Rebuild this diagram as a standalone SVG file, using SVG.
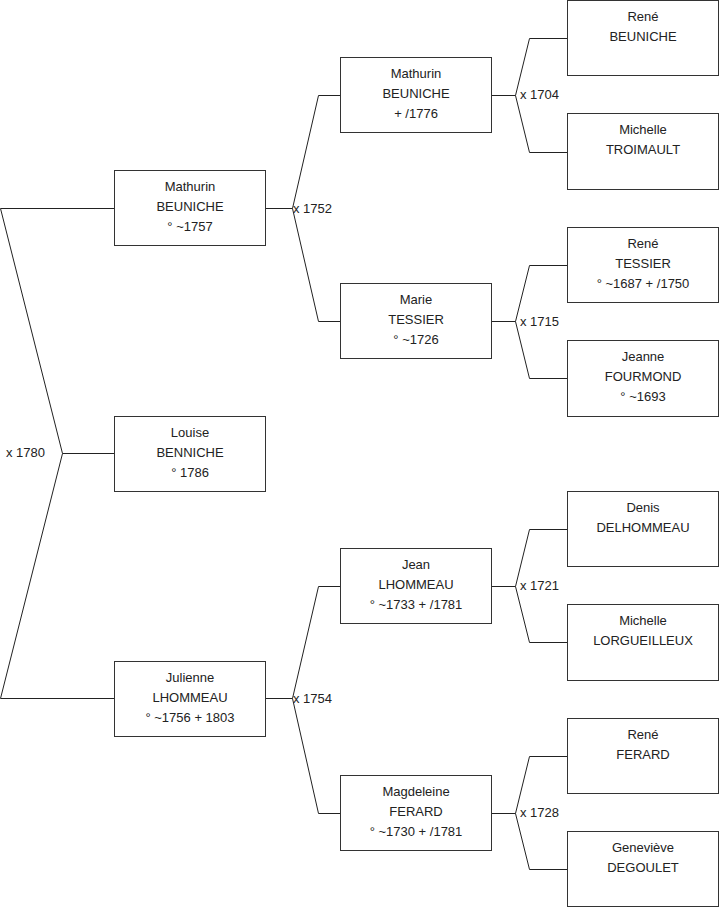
<svg xmlns="http://www.w3.org/2000/svg" width="719" height="908" viewBox="0 0 719 908">
<style>
.box rect{fill:#ffffff;stroke:#333333;stroke-width:1}
text{font-family:"Liberation Sans",Arial,sans-serif;font-size:13px;fill:#222222}
.box text{text-anchor:middle}
.links path{fill:none;stroke:#222222;stroke-width:1}
</style>
<rect width="719" height="908" fill="#ffffff"/>
<g class="links" id="connectors">
<path d="M0.5,208.5H114.5M0.5,208.5L62.5,453.5H114.5M62.5,453.5L0.5,698.5H114.5"/>
<path d="M265.5,208.5H292.5L318.5,95.5H340.5M292.5,208.5L318.5,321.5H340.5"/>
<path d="M265.5,698.5H292.5L318.5,586.5H340.5M292.5,698.5L318.5,813.5H340.5"/>
<path d="M491.5,95.5H515.5L529.5,38.5H567.5M515.5,95.5L529.5,152.5H567.5"/>
<path d="M491.5,321.5H515.5L529.5,265.5H567.5M515.5,321.5L529.5,378.5H567.5"/>
<path d="M491.5,586.5H515.5L529.5,529.5H567.5M515.5,586.5L529.5,642.5H567.5"/>
<path d="M491.5,813.5H515.5L529.5,756.5H567.5M515.5,813.5L529.5,869.5H567.5"/>
<text x="6" y="457">x 1780</text>
<text x="293" y="213">x 1752</text>
<text x="293" y="703">x 1754</text>
<text x="520" y="99">x 1704</text>
<text x="520" y="326">x 1715</text>
<text x="520" y="590">x 1721</text>
<text x="520" y="817">x 1728</text>
</g>
<g class="box" id="n-louise"><rect x="114.5" y="416.5" width="151" height="75"/><text x="190" y="437">Louise</text><text x="190" y="457">BENNICHE</text><text x="190" y="477">° 1786</text></g>
<g class="box" id="n-mathurin1"><rect x="114.5" y="170.5" width="151" height="75"/><text x="190" y="191">Mathurin</text><text x="190" y="211">BEUNICHE</text><text x="190" y="231">° ~1757</text></g>
<g class="box" id="n-julienne"><rect x="114.5" y="661.5" width="151" height="75"/><text x="190" y="682">Julienne</text><text x="190" y="702">LHOMMEAU</text><text x="190" y="722">° ~1756 + 1803</text></g>
<g class="box" id="n-mathurin2"><rect x="340.5" y="57.5" width="151" height="75"/><text x="416" y="78">Mathurin</text><text x="416" y="98">BEUNICHE</text><text x="416" y="118">+ /1776</text></g>
<g class="box" id="n-marie"><rect x="340.5" y="283.5" width="151" height="75"/><text x="416" y="304">Marie</text><text x="416" y="324">TESSIER</text><text x="416" y="344">° ~1726</text></g>
<g class="box" id="n-jean"><rect x="340.5" y="548.5" width="151" height="75"/><text x="416" y="569">Jean</text><text x="416" y="589">LHOMMEAU</text><text x="416" y="609">° ~1733 + /1781</text></g>
<g class="box" id="n-magdeleine"><rect x="340.5" y="775.5" width="151" height="75"/><text x="416" y="796">Magdeleine</text><text x="416" y="816">FERARD</text><text x="416" y="836">° ~1730 + /1781</text></g>
<g class="box" id="n-rene1"><rect x="567.5" y="0.5" width="151" height="75"/><text x="643" y="21">René</text><text x="643" y="41">BEUNICHE</text></g>
<g class="box" id="n-michelle1"><rect x="567.5" y="113.5" width="151" height="76"/><text x="643" y="134">Michelle</text><text x="643" y="154">TROIMAULT</text></g>
<g class="box" id="n-rene2"><rect x="567.5" y="227.5" width="151" height="75"/><text x="643" y="248">René</text><text x="643" y="268">TESSIER</text><text x="643" y="288">° ~1687 + /1750</text></g>
<g class="box" id="n-jeanne"><rect x="567.5" y="340.5" width="151" height="76"/><text x="643" y="361">Jeanne</text><text x="643" y="381">FOURMOND</text><text x="643" y="401">° ~1693</text></g>
<g class="box" id="n-denis"><rect x="567.5" y="491.5" width="151" height="75"/><text x="643" y="512">Denis</text><text x="643" y="532">DELHOMMEAU</text></g>
<g class="box" id="n-michelle2"><rect x="567.5" y="604.5" width="151" height="76"/><text x="643" y="625">Michelle</text><text x="643" y="645">LORGUEILLEUX</text></g>
<g class="box" id="n-rene3"><rect x="567.5" y="718.5" width="151" height="75"/><text x="643" y="739">René</text><text x="643" y="759">FERARD</text></g>
<g class="box" id="n-genevieve"><rect x="567.5" y="831.5" width="151" height="75"/><text x="643" y="852">Geneviève</text><text x="643" y="872">DEGOULET</text></g>
</svg>
